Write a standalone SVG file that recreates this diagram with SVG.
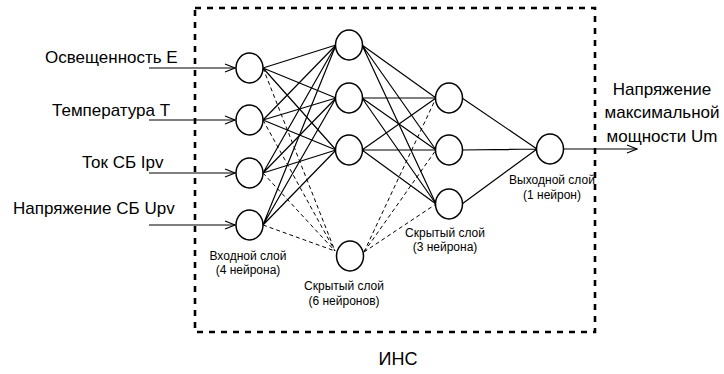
<svg xmlns="http://www.w3.org/2000/svg" width="724" height="374" viewBox="0 0 724 374">
<defs>
<marker id="arr" markerWidth="12" markerHeight="10" refX="11" refY="5" orient="auto" markerUnits="userSpaceOnUse">
<path d="M1,1 L11,5 L1,9" fill="none" stroke="#000" stroke-width="1.2"/>
</marker>
<style>
.n{fill:#fff;stroke:#000;stroke-width:1.5}
.s{stroke:#000;stroke-width:1.2;fill:none}
.d{stroke:#000;stroke-width:1;fill:none;stroke-dasharray:4,3}
.box{fill:none;stroke:#000;stroke-width:2.6;stroke-dasharray:6,6}
.t{font-family:"Liberation Sans",Arial,sans-serif;font-size:17px;fill:#000}
.l{font-family:"Liberation Sans",Arial,sans-serif;font-size:12px;fill:#000;text-anchor:middle}
</style>
</defs>
<rect width="724" height="374" fill="#fff"/>
<rect class="box" x="195" y="8" width="400" height="324"/>
<g id="connectors">
<g class="s">
<path d="M149,68 H235" marker-end="url(#arr)"/>
<path d="M149,120 H235" marker-end="url(#arr)"/>
<path d="M149,173 H235" marker-end="url(#arr)"/>
<path d="M149,225 H235" marker-end="url(#arr)"/>
<path d="M263,68 L336,45 M263,68 L336,98 M263,68 L336,150"/>
<path d="M263,120 L336,45 M263,120 L336,98 M263,120 L336,150"/>
<path d="M263,173 L336,45 M263,173 L336,98 M263,173 L336,150"/>
<path d="M263,225 L336,45 M263,225 L336,98 M263,225 L336,150"/>
<path d="M362,45 L436,98 M362,45 L436,150 M362,45 L436,204"/>
<path d="M362,98 L436,98 M362,98 L436,150 M362,98 L436,204"/>
<path d="M362,150 L436,98 M362,150 L436,150 M362,150 L436,204"/>
<path d="M462,98 L537,149 M462,150 L537,149 M462,204 L537,149"/>
<path d="M563,149 H637" marker-end="url(#arr)"/>
</g>
<g class="d">
<path d="M263,68 L335,251 M263,120 L335,251 M263,173 L335,251 M263,225 L335,251"/>
<path d="M364,252 L436,98 M364,252 L436,150 M364,252 L436,204"/>
</g>
</g>
<g id="in1"><ellipse class="n" cx="249.5" cy="68" rx="13.5" ry="15"/></g>
<g id="in2"><ellipse class="n" cx="249.5" cy="120" rx="13.5" ry="15"/></g>
<g id="in3"><ellipse class="n" cx="249.5" cy="173" rx="13.5" ry="15"/></g>
<g id="in4"><ellipse class="n" cx="249.5" cy="225" rx="13.5" ry="15"/></g>
<g id="h1a"><ellipse class="n" cx="349" cy="45" rx="13.5" ry="15"/></g>
<g id="h1b"><ellipse class="n" cx="349" cy="98" rx="13.5" ry="15"/></g>
<g id="h1c"><ellipse class="n" cx="349" cy="150" rx="13.5" ry="15"/></g>
<g id="h1d"><ellipse class="n" cx="350" cy="256" rx="13.5" ry="15"/></g>
<g id="h2a"><ellipse class="n" cx="449" cy="98" rx="13.5" ry="15"/></g>
<g id="h2b"><ellipse class="n" cx="449" cy="150" rx="13.5" ry="15"/></g>
<g id="h2c"><ellipse class="n" cx="449" cy="204" rx="13.5" ry="15"/></g>
<g id="out"><ellipse class="n" cx="550" cy="149" rx="13.5" ry="15"/></g>
<g id="labels">
<text class="t" x="45" y="63">Освещенность E</text>
<text class="t" x="52" y="116">Температура T</text>
<text class="t" x="82" y="168">Ток СБ Ipv</text>
<text class="t" x="13" y="214">Напряжение СБ Upv</text>
<text class="t" x="662" y="95" text-anchor="middle">Напряжение</text>
<text class="t" x="662" y="118" text-anchor="middle">максимальной</text>
<text class="t" x="662" y="142" text-anchor="middle">мощности Um</text>
<text class="t" x="398" y="365" text-anchor="middle" style="font-size:18px">ИНС</text>
<text class="l" x="248" y="260">Входной слой</text>
<text class="l" x="248" y="274">(4 нейрона)</text>
<text class="l" x="344" y="290">Скрытый слой</text>
<text class="l" x="344" y="305">(6 нейронов)</text>
<text class="l" x="445" y="237">Скрытый слой</text>
<text class="l" x="445" y="251">(3 нейрона)</text>
<text class="l" x="552" y="184">Выходной слой</text>
<text class="l" x="552" y="199">(1 нейрон)</text>
</g>
</svg>
